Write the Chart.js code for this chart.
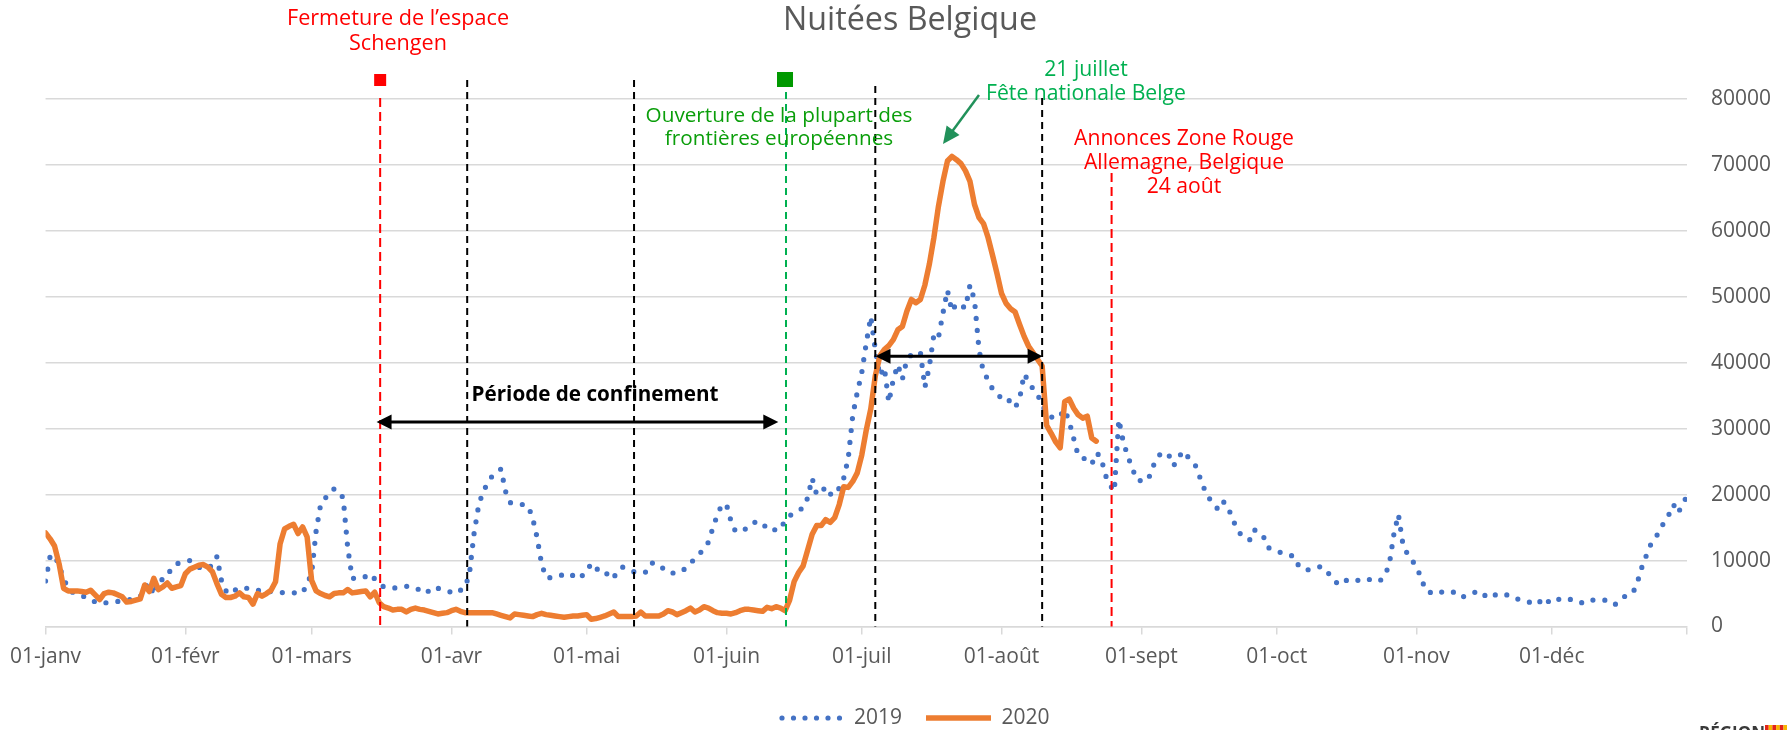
<!DOCTYPE html>
<html><head><meta charset="utf-8">
<script src="https://cdn.jsdelivr.net/npm/chart.js@4.4.1/dist/chart.umd.min.js"></script>
<style>html,body{margin:0;padding:0;background:#fff;overflow:hidden}canvas{display:block}</style>
</head><body>
<canvas id="c" width="1787" height="730"></canvas>
<script>
// ---------- DATA ----------
const monthLabels = ['01-janv','01-févr','01-mars','01-avr','01-mai','01-juin','01-juil','01-août','01-sept','01-oct','01-nov','01-déc'];
const monthStartDays = [0,31,59,90,120,151,181,212,243,273,304,334];
const lastDay = 364;
const yTickValues = [0,10000,20000,30000,40000,50000,60000,70000,80000];
const seriesNames = ['2019','2020'];
const chartTitle = 'Nuitées Belgique';

const nuitees2019 = [
 6900,10600,10900,9200,7300,5800,5200,4800,4600,4500,
 4200,3700,3500,3600,3600,3700,3800,3900,4000,4100,
 4300,4500,6000,6600,4800,7100,7100,7600,9000,9500,
 9700,9900,10000,9500,9000,8700,9000,9200,10600,7000,
 5400,4900,5500,5900,5800,5800,5600,5500,5400,5300,
 5300,5200,5200,5100,5100,5100,5100,5100,6500,8000,
 14500,18500,19500,19900,20900,20500,19500,12000,7300,7300,
 7300,7600,8000,7200,6500,6000,5900,5800,5900,6000,
 6100,6000,5900,5500,5000,5400,6000,5800,5600,5400,
 5200,5000,5500,5900,8000,14000,18200,20500,21600,22800,
 23300,23900,20500,18800,18600,18500,18500,18300,16500,13500,
 9500,7400,7400,7500,7700,7900,8100,7700,7200,7700,
 8300,9600,8900,8300,7800,8200,7400,8600,9000,8700,
 8400,8200,8200,8200,9500,9700,9200,8800,8200,8100,
 8200,8300,8900,9600,10300,11000,11800,12800,15000,17000,
 18500,18500,16000,14400,14500,14700,15200,15800,15800,15800,
 14700,14600,14700,14700,16200,16800,17200,17600,18000,19500,
 22500,20000,20300,21200,20100,19900,21000,22500,25500,32000,
 35500,38500,43000,47000,42000,38000,39300,34000,37500,39700,
 37500,40500,41200,41500,41600,36300,39500,44300,43800,47500,
 51000,47800,49000,48700,48300,51800,49500,42000,38500,37500,
 36000,35300,34600,34800,34000,33200,34500,38300,37200,36000,
 35200,33500,32500,31800,31500,32000,32900,31100,28500,25900,
 25600,25200,24600,26300,25800,23000,21500,20500,31400,28000,
 25800,24000,22200,22100,22000,23000,25000,26000,26400,26200,
 24400,24900,26600,26000,25200,24400,22600,20800,19500,18500,
 17800,19000,18500,16700,15100,14000,13600,13100,14700,14200,
 13800,12000,11700,11400,11200,10900,10800,10600,9000,8800,
 8600,8800,9000,9100,8400,7700,6800,6300,6800,7200,
 7100,7000,7200,7300,7000,6800,7000,7700,9500,14000,
 17000,12500,11000,10100,9000,7500,5500,5200,4900,5100,
 5300,5300,5300,4800,4400,4700,5000,5200,5400,4800,
 4300,4600,5000,4900,4800,4700,4300,4000,3900,3700,
 3500,3400,4400,3900,3500,3900,4300,4200,4100,4100,
 3800,3500,3800,4000,4100,4000,4000,3600,3300,4000,
 4500,4800,5100,6700,9000,10800,12500,13500,14500,16000,
 17000,18500,17200,18500,19800
];

const nuitees2020 = [
 14200,13300,12200,9500,5800,5400,5400,5400,5300,5200,
 5500,4800,4100,5000,5200,5100,4800,4500,3700,3800,
 4000,4200,6300,5300,7300,5600,6000,6600,5800,6000,
 6200,8000,8700,9000,9300,9400,9000,8300,6500,4900,
 4400,4400,4600,5100,4500,4400,3400,5000,4600,5000,
 5500,6800,12500,14800,15200,15500,14100,15100,13600,7000,
 5400,5000,4700,4500,5000,5100,5100,5600,5100,5200,
 5300,5400,4500,5200,3600,3000,2800,2500,2600,2600,
 2200,2600,2800,2600,2500,2300,2100,1900,2000,2100,
 2400,2600,2300,2100,2100,2100,2100,2100,2100,2100,
 1900,1700,1500,1300,1900,1800,1700,1600,1500,1800,
 2000,1800,1700,1600,1500,1400,1500,1600,1600,1700,
 1800,1100,1200,1400,1600,1900,2200,1500,1500,1500,
 1500,1600,2200,1600,1600,1600,1600,1900,2400,2200,
 1800,2100,2400,2800,2200,2500,3000,2800,2400,2100,
 2000,2000,1900,2100,2400,2600,2600,2500,2400,2300,
 2900,2700,3000,2800,2400,4000,6800,8200,9200,11600,
 14000,15300,15300,16200,15800,16500,18500,21200,21100,22000,
 23300,26000,29800,33000,38000,41000,42000,42600,43500,45000,
 45500,47800,49600,49100,49600,51800,55000,59000,63700,67500,
 70600,71300,70800,70200,69100,67500,64000,62000,61100,59000,
 56300,53500,50500,49000,48200,47700,45800,44000,42500,41500,
 40500,39500,30500,29300,28000,27100,34100,34500,33100,32100,
 31600,31900,28600,28100
];

// ---------- ANNOTATION CONFIG (dates as day-of-year) ----------
const eventLines = [
  {day:74.2,  top:98,  color:'#FF0000', dash:[9,5]},
  {day:93.5,  top:80,  color:'#000000', dash:[7,5]},
  {day:130.5, top:80,  color:'#000000', dash:[7,5]},
  {day:164.2, top:92,  color:'#00B050', dash:[7,5]},
  {day:184.0, top:86,  color:'#000000', dash:[7,5]},
  {day:221.0, top:98,  color:'#000000', dash:[7,5]},
  {day:236.4, top:173, color:'#FF0000', dash:[9,5]}
];
const periodArrows = [
  {from:73.4, to:162.5, value:31000},
  {from:184.05, to:221.1, value:41000}
];

const FONT = '"Open Sans", sans-serif';
const mctx = document.createElement('canvas').getContext('2d');
function sizeFor(text, width, weight) {
  mctx.font = (weight||'normal') + ' 100px ' + FONT;
  return 100 * width / mctx.measureText(text).width;
}

const textGroups = [
  {lines:[chartTitle], cx:910, ys:[21], color:'#595959', ref:0, w:254, weight:'normal'},
  {lines:['Fermeture de l’espace','Schengen'], cx:398, ys:[19,44], color:'#FF0000', ref:0, w:222, weight:'normal'},
  {lines:['Ouverture de la plupart des','frontières européennes'], cx:779, ys:[116,139], color:'#0A9E0A', ref:0, w:267, weight:'normal'},
  {lines:['21 juillet','Fête nationale Belge'], cx:1086, ys:[70,94], color:'#00B050', ref:1, w:200, weight:'normal'},
  {lines:['Annonces Zone Rouge','Allemagne, Belgique','24 août'], cx:1184, ys:[139,163,187], color:'#FF0000', ref:0, w:220, weight:'normal'},
  {lines:['Période de confinement'], cx:595, ys:[395], color:'#000000', ref:0, w:247, weight:'bold'}
];
textGroups.forEach(g => g.size = sizeFor(g.lines[g.ref], g.w, g.weight));

// dotted legend symbol for the 2019 series
const DOT_W = 5.2, DOT_GAP = 12, BLUE = '#4472C4', ORANGE = '#ED7D31';
const dottedSymbol = document.createElement('canvas');
dottedSymbol.width = 66; dottedSymbol.height = 10;
(function(){
  const c = dottedSymbol.getContext('2d');
  c.strokeStyle = BLUE; c.lineWidth = DOT_W; c.lineCap = 'round'; c.setLineDash([0, 11.5]);
  c.beginPath(); c.moveTo(4, 5); c.lineTo(64, 5); c.stroke();
})();

function arrowHead(ctx, tx, ty, ang, len, half) {
  ctx.beginPath();
  ctx.moveTo(tx, ty);
  ctx.lineTo(tx - len*Math.cos(ang) + half*Math.sin(ang), ty - len*Math.sin(ang) - half*Math.cos(ang));
  ctx.lineTo(tx - len*Math.cos(ang) - half*Math.sin(ang), ty - len*Math.sin(ang) + half*Math.cos(ang));
  ctx.closePath();
  ctx.fill();
}

const annot = {
  id:'annot',
  beforeDraw(chart) {
    const c = chart.ctx; c.save(); c.fillStyle = '#fff'; c.fillRect(0,0,chart.width,chart.height); c.restore();
  },
  afterDatasetsDraw(chart) {
    const ctx = chart.ctx, x = chart.scales.x, y = chart.scales.y;
    const y0 = y.getPixelForValue(0);
    ctx.save();
    eventLines.forEach(L => {
      const px = x.getPixelForValue(L.day);
      ctx.beginPath(); ctx.setLineDash(L.dash); ctx.strokeStyle = L.color; ctx.lineWidth = 2;
      ctx.moveTo(px, L.top); ctx.lineTo(px, y0); ctx.stroke();
    });
    ctx.setLineDash([]);
    const rx = x.getPixelForValue(eventLines[0].day);
    ctx.fillStyle = '#FF0000'; ctx.fillRect(rx-6, 74, 12, 12);
    const gx = x.getPixelForValue(eventLines[3].day);
    ctx.fillStyle = '#009900'; ctx.fillRect(gx-9, 72, 16, 15);
    ctx.strokeStyle = '#000'; ctx.fillStyle = '#000'; ctx.lineWidth = 3;
    periodArrows.forEach(A => {
      const x1 = x.getPixelForValue(A.from), x2 = x.getPixelForValue(A.to), py = y.getPixelForValue(A.value);
      ctx.beginPath(); ctx.moveTo(x1+10, py); ctx.lineTo(x2-10, py); ctx.stroke();
      arrowHead(ctx, x1, py, Math.PI, 15, 7.5);
      arrowHead(ctx, x2, py, 0, 15, 7.5);
    });
    ctx.strokeStyle = '#21915A'; ctx.fillStyle = '#21915A'; ctx.lineWidth = 2.5;
    const ax1 = 979, ay1 = 95, ax2 = 943, ay2 = 144;
    const ang = Math.atan2(ay2-ay1, ax2-ax1);
    ctx.beginPath(); ctx.moveTo(ax1, ay1); ctx.lineTo(ax2 - 12*Math.cos(ang), ay2 - 12*Math.sin(ang)); ctx.stroke();
    arrowHead(ctx, ax2, ay2, ang, 17, 8);
    ctx.textAlign = 'center'; ctx.textBaseline = 'middle';
    textGroups.forEach(g => {
      ctx.font = g.weight + ' ' + g.size.toFixed(2) + 'px ' + FONT;
      ctx.fillStyle = g.color;
      g.lines.forEach((t,i) => ctx.fillText(t, g.cx, g.ys[i]));
    });
    ctx.restore();
  },
  afterDraw(chart) {
    const ctx = chart.ctx;
    ctx.save();
    ctx.font = 'bold 17px ' + FONT; ctx.fillStyle = '#3a3a3a'; ctx.textAlign = 'left'; ctx.textBaseline = 'alphabetic';
    ctx.fillText('RÉGION', 1699, 739);
    const cols = ['#E2231A','#F7B500'];
    for (let i = 0; i < 6; i++) { ctx.fillStyle = cols[i%2]; ctx.fillRect(1765 + i*3.7, 725, 3.7, 5); }
    ctx.restore();
  }
};

new Chart(document.getElementById('c'), {
  type: 'line',
  data: {
    datasets: [
      { label: seriesNames[0], data: nuitees2019.map((v,i)=>({x:i,y:v})), borderColor:BLUE, backgroundColor:BLUE,
        borderWidth:DOT_W, borderDash:[0,DOT_GAP], borderCapStyle:'round', borderJoinStyle:'round',
        pointRadius:0, pointStyle:dottedSymbol, tension:0, fill:false, order:2 },
      { label: seriesNames[1], data: nuitees2020.map((v,i)=>({x:i,y:v})), borderColor:ORANGE, backgroundColor:ORANGE,
        borderWidth:5.5, borderCapStyle:'round', borderJoinStyle:'round',
        pointRadius:0, pointStyle:'line', tension:0, fill:false, order:1 }
    ]
  },
  options: {
    responsive:false, animation:false, devicePixelRatio:1,
    layout:{ padding:{ left:41, right:0, top:99, bottom:-8.5 } },
    scales: {
      x: {
        type:'linear', min:0, max:lastDay, position:'bottom',
        afterBuildTicks: s => { s.ticks = monthStartDays.concat([lastDay]).map(v => ({value:v})); },
        ticks: { autoSkip:false, maxRotation:0, padding:10, color:'#595959', font:{family:FONT, size:21},
          callback: v => { const i = monthStartDays.indexOf(v); return i >= 0 ? monthLabels[i] : ''; } },
        grid: { drawOnChartArea:false, drawTicks:true, tickLength:8, color:'#d9d9d9', lineWidth:1.5 },
        border: { display:true, color:'#d9d9d9', width:1.5 },
        afterFit: s => { s.height = 57; }
      },
      y: {
        position:'right', min:0, max:80000,
        afterBuildTicks: s => { s.ticks = yTickValues.map(v => ({value:v})); },
        ticks: { padding:24, color:'#595959', font:{family:FONT, size:21}, callback: v => String(v) },
        grid: { color:'#d9d9d9', lineWidth:1.5, drawTicks:false },
        border: { display:false },
        afterFit: s => { s.width = 100; }
      }
    },
    plugins: {
      title: { display:false },
      legend: { display:true, position:'bottom',
        labels: { usePointStyle:true, pointStyleWidth:65, color:'#595959', font:{family:FONT, size:21}, padding:24,
          sort: (a, b) => a.datasetIndex - b.datasetIndex } },
      tooltip: { enabled:false }
    }
  },
  plugins: [annot]
});
</script>
</body></html>
